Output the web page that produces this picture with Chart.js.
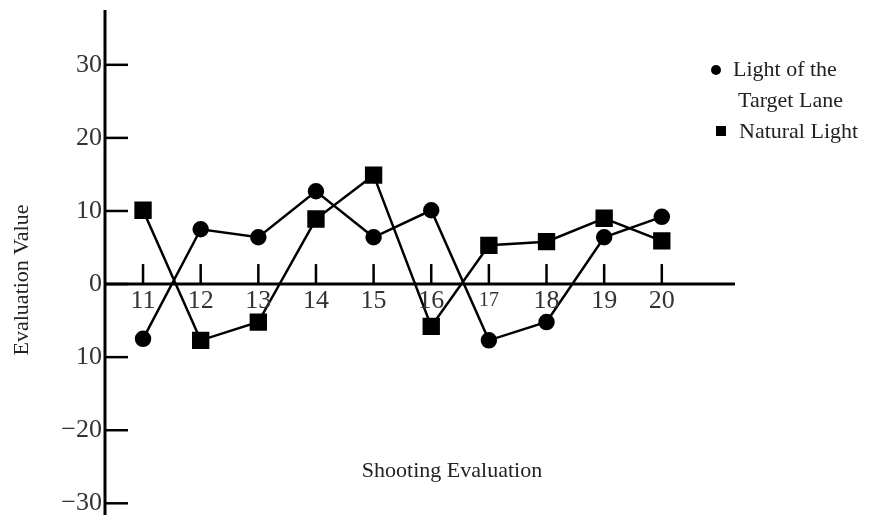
<!DOCTYPE html>
<html lang="en">
<head>
  <meta charset="UTF-8">
  <title>Shooting Evaluation</title>
  <script src="https://cdn.jsdelivr.net/npm/chart.js@4.4.4/dist/chart.umd.min.js"></script>
  <style>
    html, body { margin: 0; padding: 0; background: #fff; }
    canvas { display: block; }
  </style>
</head>
<body>
  <canvas id="chart-1" width="869" height="521"></canvas>
  <script>
    // data
    const categories = [11, 12, 13, 14, 15, 16, 17, 18, 19, 20];
    const targetLane = [-7.5, 7.5, 6.4, 12.7, 6.4, 10.1, -7.7, -5.2, 6.4, 9.2];
    const naturalLight = [10.1, -7.7, -5.2, 8.9, 14.9, -5.8, 5.3, 5.8, 9.0, 5.9];
    const yTickValues = [30, 20, 10, 0, -10, -20, -30];
    const yTickLabels = ['30', '20', '10', '0', '10', '\u221220', '\u221230'];
    const seriesNames = [['Light of the', 'Target Lane'], ['Natural Light']];

    const serif = '"Liberation Serif", "DejaVu Serif", serif';
    const textColor = '#333';

    const axesPlugin = {
      id: 'axes',
      beforeDatasetsDraw(chart) {
        const { ctx, chartArea, scales: { x, y } } = chart;
        const y0 = y.getPixelForValue(0);
        ctx.save();
        ctx.strokeStyle = '#000';
        ctx.lineCap = 'butt';
        // y axis
        ctx.lineWidth = 3;
        ctx.beginPath();
        ctx.moveTo(chartArea.left, chartArea.top);
        ctx.lineTo(chartArea.left, chartArea.bottom);
        ctx.stroke();
        // x axis at zero
        ctx.beginPath();
        ctx.moveTo(chartArea.left, y0);
        ctx.lineTo(chartArea.right, y0);
        ctx.stroke();
        // y ticks, pointing right
        ctx.lineWidth = 2.5;
        yTickValues.forEach(v => {
          const py = y.getPixelForValue(v);
          ctx.beginPath();
          ctx.moveTo(chartArea.left, py);
          ctx.lineTo(chartArea.left + 23, py);
          ctx.stroke();
        });
        // x ticks, pointing up
        categories.forEach(c => {
          const px = x.getPixelForValue(c);
          ctx.beginPath();
          ctx.moveTo(px, y0);
          ctx.lineTo(px, y0 - 20);
          ctx.stroke();
        });
        ctx.restore();
      },
      afterDraw(chart) {
        const { ctx, chartArea, scales: { x, y } } = chart;
        const y0 = y.getPixelForValue(0);
        ctx.save();
        ctx.fillStyle = textColor;
        ctx.textBaseline = 'middle';

        // y tick labels
        ctx.font = '26px ' + serif;
        ctx.textAlign = 'right';
        yTickValues.forEach((v, i) => {
          ctx.fillText(yTickLabels[i], chartArea.left - 3, y.getPixelForValue(v));
        });

        // x tick labels
        ctx.textAlign = 'center';
        categories.forEach(c => {
          ctx.font = (c === 17 ? '20px ' : '26px ') + serif;
          ctx.fillText(String(c), x.getPixelForValue(c), y0 + 17);
        });

        // axis titles
        ctx.fillStyle = '#222';
        ctx.font = '22px ' + serif;
        ctx.fillText('Shooting Evaluation', 452, 471);
        ctx.save();
        ctx.translate(22, 280);
        ctx.rotate(-Math.PI / 2);
        ctx.fillText('Evaluation Value', 0, 0);
        ctx.restore();

        // legend
        ctx.fillStyle = '#000';
        ctx.beginPath();
        ctx.arc(716, 70, 5, 0, Math.PI * 2);
        ctx.fill();
        ctx.fillRect(716, 126, 10, 10);
        ctx.fillStyle = '#222';
        ctx.textAlign = 'left';
        ctx.fillText(seriesNames[0][0], 733, 70);
        ctx.fillText(seriesNames[0][1], 738, 101);
        ctx.fillText(seriesNames[1][0], 739, 132);
        ctx.restore();
      }
    };

    const chart = new Chart(document.getElementById('chart-1'), {
      type: 'line',
      data: {
        datasets: [
          {
            label: seriesNames[0].join(' '),
            data: categories.map((c, i) => ({ x: c, y: targetLane[i] })),
            borderColor: '#000',
            backgroundColor: '#000',
            borderWidth: 2.5,
            pointStyle: 'circle',
            pointRadius: 7,
            tension: 0
          },
          {
            label: seriesNames[1][0],
            data: categories.map((c, i) => ({ x: c, y: naturalLight[i] })),
            borderColor: '#000',
            backgroundColor: '#000',
            borderWidth: 2.5,
            pointStyle: 'rect',
            pointRadius: 10.5,
            tension: 0
          }
        ]
      },
      options: {
        responsive: false,
        animation: false,
        layout: { autoPadding: false, padding: { left: 105, right: 134, top: 10, bottom: 6 } },
        scales: {
          x: { type: 'linear', display: false, min: 10.34, max: 21.27 },
          y: { type: 'linear', display: false, min: -31.6, max: 37.5 }
        },
        plugins: {
          legend: { display: false },
          tooltip: { enabled: false }
        }
      },
      plugins: [axesPlugin]
    });
  </script>
</body>
</html>
